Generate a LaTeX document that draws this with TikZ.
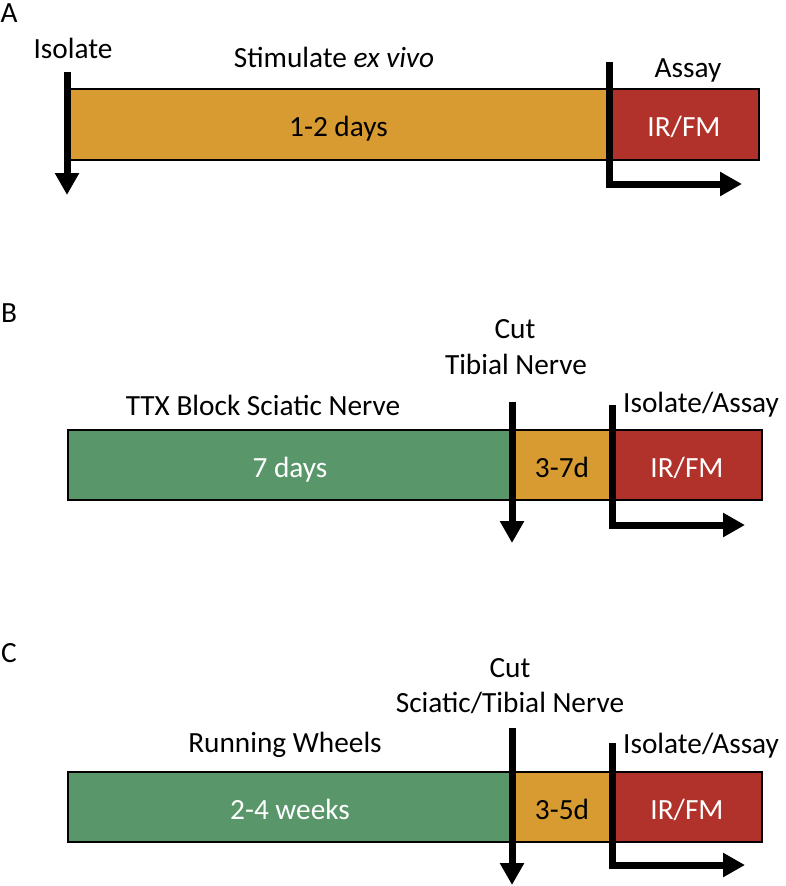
\documentclass[tikz,border=0pt]{standalone}
\usepackage{fontspec}
\setmainfont{Carlito}
\usetikzlibrary{arrows.meta,positioning}
\definecolor{barorange}{RGB}{215,155,50}
\definecolor{barred}{RGB}{177,50,42}
\definecolor{bargreen}{RGB}{89,151,106}
\begin{document}
\begin{tikzpicture}[x=1pt, y=-1pt, font=\fontsize{29.3}{35}\selectfont,
  seg/.style={draw=black, line width=1.3pt, inner sep=0pt, outer sep=0pt, minimum height=70pt, text height=24pt, text depth=0pt},
  lbl/.style={anchor=base, inner sep=0pt},
  tick/.style={line width=7pt, -{Triangle[width=23pt, length=22pt]}}]
\useasboundingbox (0,0) rectangle (785,886);
% A
\node[lbl] (pA) at (9,22) {A};
\node[seg, fill=barorange, minimum height=71pt, minimum width=541pt, anchor=north west] (oA) at (68,89) {1-2 days};
\node[seg, fill=barred, text=white, minimum height=71pt, minimum width=150pt, right=0pt of oA] (rA) {IR/FM};
\node[lbl] (isoA) at (73,58) {Isolate};
\node[lbl] (stimA) at (334,67) {Stimulate \textit{ex vivo}};
\node[lbl] (assA) at (688,77) {Assay};
\draw[tick] ([xshift=-1pt, yshift=17pt]oA.north west) -- ([xshift=-1pt, yshift=-35pt]oA.south west);
\draw[tick] ([yshift=27pt]oA.north east) |- ([xshift=133pt, yshift=-24pt]oA.south east);
% B
\node[lbl] (pB) at (9,322) {B};
\node[seg, fill=bargreen, text=white, minimum width=444pt, anchor=north west] (gB) at (68,430) {7 days};
\node[seg, fill=barorange, minimum width=100pt, right=0pt of gB] (oB) {3-7d};
\node[seg, fill=barred, text=white, minimum width=150pt, right=0pt of oB] (rB) {IR/FM};
\node[lbl] (cutB) at (515,338) {Cut};
\node[lbl] (nerveB) at (516,374) {Tibial Nerve};
\node[lbl] (ttxB) at (263,415) {TTX Block Sciatic Nerve};
\node[lbl, anchor=base west] (assB) at (623,412) {Isolate/Assay};
\draw[tick] ([yshift=28pt]gB.north east) -- ([yshift=-43pt]gB.south east);
\draw[tick] ([yshift=25pt]oB.north east) |- ([xshift=133pt, yshift=-25pt]oB.south east);
% C
\node[lbl] (pC) at (9,662) {C};
\node[seg, fill=bargreen, text=white, minimum width=444pt, anchor=north west] (gC) at (68,772) {2-4 weeks};
\node[seg, fill=barorange, minimum width=100pt, right=0pt of gC] (oC) {3-5d};
\node[seg, fill=barred, text=white, minimum width=150pt, right=0pt of oC] (rC) {IR/FM};
\node[lbl] (cutC) at (510,677) {Cut};
\node[lbl] (nerveC) at (510,712) {Sciatic/Tibial Nerve};
\node[lbl] (runC) at (285,752) {Running Wheels};
\node[lbl, anchor=base west] (assC) at (623,753) {Isolate/Assay};
\draw[tick] ([yshift=44pt]gC.north east) -- ([yshift=-43pt]gC.south east);
\draw[tick] ([yshift=29pt]oC.north east) |- ([xshift=133pt, yshift=-23pt]oC.south east);
\end{tikzpicture}
\end{document}
